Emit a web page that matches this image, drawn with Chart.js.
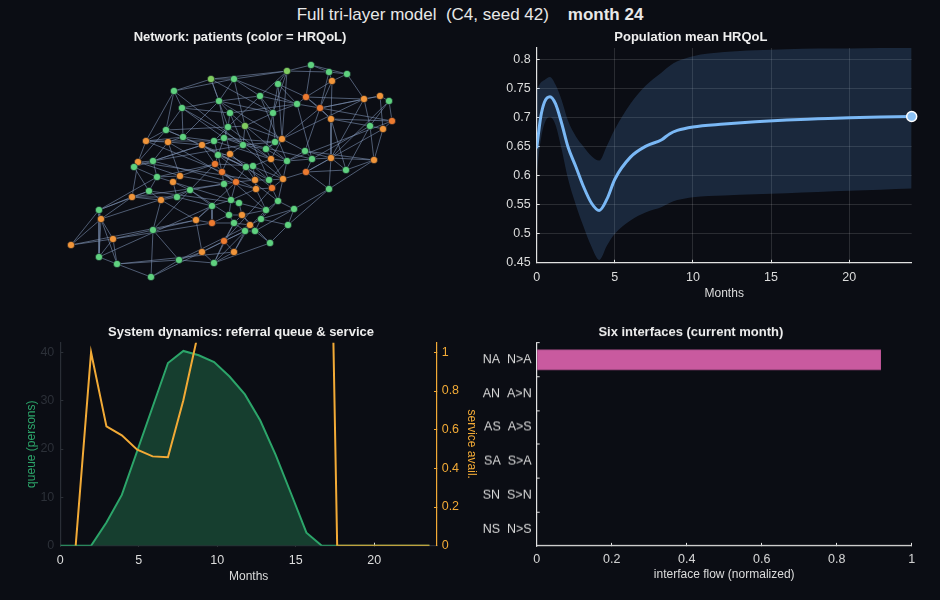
<!DOCTYPE html>
<html>
<head>
<meta charset="utf-8">
<script src="https://cdn.jsdelivr.net/npm/chart.js@4.4.1/dist/chart.umd.min.js"></script>
<style>
body { margin: 0; background: #0b0d14; width: 940px; height: 600px; overflow: hidden; position: relative; font-family: "Liberation Sans", Arial, sans-serif; }
.panel { position: absolute; }
#title { position: absolute; top: 4px; left: 0; width: 940px; text-align: center; color: #e8e8e8; font-size: 17px; line-height: 22px; white-space: pre; }
</style>
</head>
<body>
<div id="title">Full tri-layer model  (C4, seed 42)    <b>month 24</b></div>
<div class="panel" style="left:20px;top:26px;width:440px;height:264px"><canvas id="netChart"></canvas></div>
<div class="panel" style="left:470px;top:26px;width:460px;height:275px"><canvas id="hrqolChart"></canvas></div>
<div class="panel" style="left:0px;top:321px;width:482px;height:263px"><canvas id="queueChart"></canvas></div>
<div class="panel" style="left:470px;top:321px;width:460px;height:259.5px"><canvas id="ifaceChart"></canvas></div>
<script>
// --- network layout (layout units, y grows downward) and HRQoL per patient
const netX = [311,287,329,347,211,234,278,332,174,260,306,364,380,389,219,297,182,320,230,273,
    331,392,370,383,228,245,166,183,224,214,282,275,146,168,202,243,266,305,218,230,
    271,331,312,374,138,153,287,215,246,253,134,222,306,346,180,157,283,255,269,173,
    236,224,256,272,149,190,329,132,177,161,231,239,278,212,294,99,266,229,242,101,
    196,212,234,261,250,288,153,245,255,113,224,270,71,202,234,99,179,214,117,151]
const netY = [65,71,72,74,79,79,84,81,91,96,97,99,96,101,101,104,108,108,113,113,
    119,121,126,129,127,126,130,137,138,141,139,142,141,142,145,145,149,151,155,154,
    159,158,159,160,162,161,161,164,167,166,167,172,172,170,176,177,179,180,180,182,
    182,184,189,188,191,190,189,197,197,200,200,203,201,206,209,210,210,215,215,219,
    220,223,223,219,225,225,230,231,231,239,241,243,245,252,252,257,260,263,264,277]
const netHrqol = [0.82,0.7,0.82,0.82,0.7,0.82,0.82,0.5,0.82,0.82,0.4,0.5,0.5,0.82,0.82,0.82,0.82,0.4,0.82,0.82,
    0.5,0.4,0.82,0.5,0.82,0.7,0.82,0.82,0.82,0.82,0.5,0.82,0.5,0.5,0.5,0.82,0.82,0.82,0.82,0.5,
    0.5,0.5,0.82,0.5,0.5,0.82,0.82,0.4,0.82,0.82,0.82,0.4,0.4,0.82,0.5,0.82,0.5,0.5,0.82,0.5,
    0.4,0.82,0.5,0.4,0.82,0.82,0.82,0.5,0.82,0.5,0.82,0.82,0.82,0.82,0.82,0.82,0.82,0.82,0.5,0.5,
    0.5,0.4,0.82,0.82,0.5,0.82,0.82,0.82,0.82,0.5,0.4,0.82,0.5,0.5,0.5,0.82,0.82,0.82,0.82,0.82]
// edges, 1-based patient ids
const netEdges = [
    [1,2],[1,3],[1,4],[1,11],[2,6],[2,7],[2,3],[2,20],[2,10],[2,31],[3,4],[3,8],[3,18],[4,8],[4,12],
    [5,9],[5,6],[5,15],[5,2],[5,25],[5,20],[6,15],[6,10],[6,26],[6,16],[7,16],[7,20],[7,31],[7,11],
    [8,11],[8,18],[8,21],[9,17],[9,33],[9,27],[9,6],[9,36],[10,15],[10,20],[10,16],[10,25],[10,47],
    [11,18],[11,16],[11,12],[11,21],[12,13],[12,18],[12,23],[12,31],[12,42],[13,14],[13,24],[13,18],
    [14,22],[14,23],[14,42],[15,17],[15,19],[15,20],[15,40],[15,31],[16,18],[16,19],[16,20],[16,43],
    [17,27],[17,28],[17,19],[17,41],[17,29],[18,21],[18,22],[18,31],[18,38],[19,25],[19,36],[19,47],
    [20,26],[20,32],[20,37],[21,22],[21,42],[21,23],[21,54],[22,24],[22,47],[23,24],[23,44],[23,54],[23,43],
    [24,44],[24,53],[25,26],[25,29],[25,30],[25,27],[25,41],[26,36],[26,31],[26,59],
    [27,28],[27,33],[27,45],[27,57],[28,34],[28,30],[28,15],[28,49],[29,30],[29,39],[29,36],[29,32],[29,43],
    [30,35],[30,39],[30,41],[30,33],[31,32],[31,37],[31,41],[32,37],[32,36],
    [33,34],[33,45],[33,52],[33,28],[34,35],[34,55],[34,46],[34,61],[35,39],[35,48],[35,59],[35,51],
    [36,40],[36,37],[36,57],[36,46],[37,41],[37,47],[38,43],[38,31],[38,42],[38,47],[38,44],
    [39,40],[39,48],[39,52],[39,49],[39,73],[40,52],[40,49],[40,64],[41,47],[41,50],[41,57],
    [42,43],[42,44],[42,54],[42,53],[42,67],[43,47],[43,53],[44,54],[44,67],
    [45,46],[45,51],[45,68],[45,58],[45,55],[46,56],[46,29],[46,63],[47,57],[47,59],
    [48,52],[48,66],[48,55],[48,50],[49,50],[49,61],[49,58],[50,58],[50,59],[51,56],[51,65],
    [52,62],[52,61],[52,63],[52,77],[53,57],[53,67],[53,54],[55,56],[55,60],[55,62],[56,65],[56,60],[56,48],
    [57,59],[57,64],[57,73],[58,59],[58,61],[58,63],[59,64],[60,69],[60,66],[60,71],
    [61,62],[61,71],[61,81],[62,71],[62,66],[62,68],[63,64],[63,71],[63,77],[64,73],[64,91],
    [65,68],[65,70],[65,72],[66,69],[66,74],[66,78],[66,87],[66,80],[67,75],[67,86],
    [68,76],[68,80],[68,69],[68,70],[69,70],[69,74],[70,87],[70,81],[71,72],[71,74],[71,78],[72,77],[72,79],
    [73,75],[73,77],[73,84],[74,81],[74,82],[74,96],[75,86],[75,84],[75,89],
    [76,80],[76,93],[76,96],[76,65],[76,56],[77,84],[77,79],[77,98],[78,79],[78,83],[78,82],
    [79,85],[79,83],[79,92],[80,90],[80,96],[80,99],[80,93],[81,82],[81,87],[81,94],[81,93],
    [82,83],[82,90],[83,85],[83,88],[83,91],[83,98],[84,85],[84,89],[84,86],[85,88],[85,89],[85,97],[85,95],
    [86,92],[88,89],[88,95],[88,91],[88,94],[89,92],[90,99],[90,87],[90,96],[90,93],
    [91,94],[91,95],[91,98],[92,98],[94,98],[94,97],[94,100],[95,98],[95,99],[96,99],
    [97,99],[97,98],[97,100],[97,87],[99,100],[87,100]
]

// --- population mean HRQoL
const hrqolMonths = [0,0.25,0.5,0.85,1.2,1.6,2,2.5,3,3.5,4,4.5,5,6,7,8,8.5,9,10,12,14,16,18,20,22,24]
const hrqolMean = [0.647,0.700,0.727,0.736,0.724,0.690,0.650,0.616,0.581,0.553,0.540,0.560,0.594,0.632,0.651,0.662,0.672,0.678,0.684,0.689,0.693,0.696,0.698,0.700,0.701,0.702]
const hrqolUpper = [0.748,0.760,0.765,0.770,0.757,0.730,0.695,0.668,0.650,0.634,0.626,0.652,0.680,0.724,0.756,0.778,0.789,0.797,0.806,0.813,0.816,0.818,0.819,0.819,0.820,0.820]
const hrqolLower = [0.604,0.660,0.690,0.701,0.688,0.645,0.595,0.550,0.512,0.478,0.455,0.480,0.500,0.523,0.537,0.546,0.553,0.558,0.563,0.566,0.568,0.570,0.572,0.574,0.576,0.578]

// --- system dynamics
const sysMonths = [0,0.98,1.96,2.94,3.92,4.9,5.88,6.86,7.84,8.82,9.8,10.78,11.76,12.74,13.72,14.7,15.68,16.66,17.64,18.62,19.6,20.58,21.56,22.54,23.52]
const queueSize = [0,0,0,4.8,10.5,19.6,28.7,37.8,40.3,39.4,38.0,35.0,31.3,25.9,18.8,10.8,2.7,0,0,0,0,0,0,0,0]
const serviceAvail = [null,0,1.0,0.617,0.571,0.497,0.462,0.458,0.752,1.114,1.6,2.0,2.4,2.8,3.2,3.6,4.0,4.3,0,0,0,0,0,0,0]

// --- interfaces
const interfaceLabels = ["NA  N>A", "AN  A>N", "AS  A>S", "SA  S>A", "SN  S>N", "NS  N>S"]
const interfaceFlow = [0.918, 0, 0, 0, 0, 0]

Chart.defaults.font.family = "'Liberation Sans', Arial, sans-serif"
Chart.defaults.color = "#dcdcdc"
Chart.defaults.animation = false
Chart.defaults.layout.autoPadding = false
Chart.defaults.plugins.legend.display = false
Chart.defaults.plugins.tooltip.enabled = false

const textColor = "#dcdcdc"
const spineColor = "#e2e2e2"
const tickFont = { size: 12.5 }
const titleFont = { size: 13, weight: "bold" }
const axisTitleFont = { size: 12 }
const green = "#2ca56a"
const orange = "#f2aa36"

function fmt(v) {
    return String(+v.toFixed(2))
}

function hrqolColor(v) {
    const stops = [[0.4, [236, 122, 48]], [0.5, [241, 149, 58]], [0.7, [128, 204, 96]], [0.82, [95, 209, 127]]]
    if (v <= stops[0][0]) return `rgb(${stops[0][1].join(",")})`
    for (let i = 1; i < stops.length; i++) {
        if (v <= stops[i][0]) {
            const t = (v - stops[i - 1][0]) / (stops[i][0] - stops[i - 1][0])
            const c = stops[i][1].map((c1, j) => Math.round(stops[i - 1][1][j] + (c1 - stops[i - 1][1][j]) * t))
            return `rgb(${c.join(",")})`
        }
    }
    return `rgb(${stops[stops.length - 1][1].join(",")})`
}

function panelTitle(text) {
    return { display: true, text: text, color: "#eeeeee", font: titleFont, padding: { top: 4, bottom: 4 } }
}

// network
const nodes = netX.map((x, i) => ({ x: x, y: netY[i] }))
const seen = new Set()
const edgePoints = []
netEdges.forEach(([a, b]) => {
    const key = Math.min(a, b) + "-" + Math.max(a, b)
    if (seen.has(key)) return
    seen.add(key)
    edgePoints.push(nodes[a - 1], nodes[b - 1], { x: nodes[b - 1].x, y: null })
})

new Chart(document.getElementById("netChart"), {
    type: "scatter",
    data: {
        datasets: [
            {
                data: nodes,
                pointRadius: 3.6,
                pointBackgroundColor: netHrqol.map(hrqolColor),
                pointBorderColor: "rgba(15,20,30,0.7)",
                pointBorderWidth: 0.8,
                order: 0,
                clip: false,
            },
            {
                data: edgePoints,
                showLine: true,
                spanGaps: false,
                borderColor: "rgba(125,145,178,0.6)",
                borderWidth: 1,
                pointRadius: 0,
                order: 1,
            },
        ],
    },
    options: {
        responsive: true,
        maintainAspectRatio: false,
        plugins: { title: panelTitle("Network: patients (color = HRQoL)") },
        scales: {
            x: { type: "linear", display: false, min: 20, max: 460 },
            y: { type: "linear", display: false, min: 49.6, max: 290, reverse: true },
        },
    },
})

// population mean HRQoL
const xy = (xs, ys) => xs.map((x, i) => ({ x: x, y: ys[i] }))
const lastIdx = hrqolMonths.length - 1

new Chart(document.getElementById("hrqolChart"), {
    type: "line",
    data: {
        datasets: [
            {
                type: "scatter",
                data: [{ x: hrqolMonths[lastIdx], y: hrqolMean[lastIdx] }],
                pointRadius: 5,
                pointBackgroundColor: "#8cc2f5",
                pointBorderColor: "#ffffff",
                pointBorderWidth: 1.5,
                clip: false,
                order: 0,
            },
            {
                data: xy(hrqolMonths, hrqolMean),
                borderColor: "#7ab8f5",
                borderWidth: 3,
                pointRadius: 0,
                cubicInterpolationMode: "monotone",
                fill: false,
                order: 1,
            },
            {
                data: xy(hrqolMonths, hrqolUpper),
                borderWidth: 0,
                pointRadius: 0,
                cubicInterpolationMode: "monotone",
                backgroundColor: "rgba(90,150,220,0.2)",
                fill: "+1",
                order: 2,
            },
            {
                data: xy(hrqolMonths, hrqolLower),
                borderWidth: 0,
                pointRadius: 0,
                cubicInterpolationMode: "monotone",
                fill: false,
                order: 3,
            },
        ],
    },
    options: {
        responsive: true,
        maintainAspectRatio: false,
        layout: { padding: { right: 18.3 } },
        plugins: { title: { ...panelTitle("Population mean HRQoL"), padding: { top: 4, bottom: 2.4 } } },
        scales: {
            x: {
                type: "linear", min: 0, max: 24,
                ticks: { stepSize: 5, includeBounds: false, color: textColor, font: tickFont, padding: 10, maxRotation: 0 },
                grid: { color: "rgba(255,255,255,0.13)", tickColor: spineColor, tickLength: -3 },
                border: { color: spineColor, width: 1.2 },
                title: { display: true, text: "Months", color: textColor, font: axisTitleFont, padding: 0 },
                afterFit: (s) => { s.height = 38.2 },
            },
            y: {
                type: "linear", min: 0.45, max: 0.82,
                ticks: { stepSize: 0.05, includeBounds: false, color: textColor, font: tickFont, padding: 9, callback: fmt },
                grid: { color: "rgba(255,255,255,0.13)", tickColor: spineColor, tickLength: -3 },
                border: { color: spineColor, width: 1.2 },
                afterFit: (s) => { s.width = 66.7 },
            },
        },
    },
})

// system dynamics
new Chart(document.getElementById("queueChart"), {
    type: "line",
    data: {
        datasets: [
            {
                data: xy(sysMonths, serviceAvail),
                yAxisID: "yS",
                borderColor: orange,
                borderWidth: 2,
                pointRadius: 0,
                fill: false,
                spanGaps: false,
                order: 0,
            },
            {
                data: xy(sysMonths, queueSize),
                yAxisID: "yQ",
                borderColor: green,
                backgroundColor: "#163e2f",
                borderWidth: 2,
                pointRadius: 0,
                fill: "origin",
                order: 1,
            },
        ],
    },
    options: {
        responsive: true,
        maintainAspectRatio: false,
        plugins: { title: { ...panelTitle("System dynamics: referral queue & service"), padding: { top: 4, bottom: 2.1 } } },
        scales: {
            x: {
                type: "linear", min: 0, max: 24,
                ticks: { stepSize: 5, includeBounds: false, color: textColor, font: tickFont, padding: 10, maxRotation: 0 },
                grid: { drawOnChartArea: false, tickColor: spineColor, tickLength: -3 },
                border: { color: "#2a2e36", width: 1.2 },
                title: { display: true, text: "Months", color: textColor, font: axisTitleFont, padding: 0 },
                afterFit: (s) => { s.height = 38.3 },
            },
            yQ: {
                type: "linear", position: "left", min: 0, max: 42,
                ticks: { stepSize: 10, includeBounds: false, color: "#2c3038", font: tickFont, padding: 9 },
                grid: { drawOnChartArea: false, tickColor: "#2c3038", tickLength: -3 },
                border: { color: "#2a2e36", width: 1.2 },
                title: { display: true, text: "queue (persons)", color: green, font: axisTitleFont, padding: { top: 24.5, bottom: 0 } },
                afterFit: (s) => { s.width = 60.3 },
            },
            yS: {
                type: "linear", position: "right", min: 0, max: 1.05,
                ticks: { stepSize: 0.2, includeBounds: false, color: orange, font: tickFont, padding: 7.7, callback: fmt },
                grid: { drawOnChartArea: false, tickColor: orange, tickLength: -3 },
                border: { color: orange, width: 1.2 },
                title: { display: true, text: "service avail.", color: orange, font: axisTitleFont, padding: { top: 3.1, bottom: 0 } },
                afterFit: (s) => { s.width = 45 },
            },
        },
    },
})

// six interfaces
new Chart(document.getElementById("ifaceChart"), {
    type: "bar",
    data: {
        labels: interfaceLabels,
        datasets: [
            {
                data: interfaceFlow,
                backgroundColor: "#c95a9f",
                borderWidth: 0,
                barPercentage: 0.6,
                categoryPercentage: 1,
            },
        ],
    },
    options: {
        indexAxis: "y",
        responsive: true,
        maintainAspectRatio: false,
        layout: { padding: { right: 18.3 } },
        plugins: { title: { ...panelTitle("Six interfaces (current month)"), padding: { top: 4, bottom: 2.1 } } },
        scales: {
            x: {
                type: "linear", min: 0, max: 1,
                ticks: { stepSize: 0.2, includeBounds: false, color: textColor, font: tickFont, padding: 9, maxRotation: 0, callback: fmt },
                grid: { drawOnChartArea: false, tickColor: spineColor, tickLength: -3 },
                border: { color: spineColor, width: 1.2 },
                title: { display: true, text: "interface flow (normalized)", color: textColor, font: axisTitleFont, padding: 0 },
                afterFit: (s) => { s.height = 35.5 },
            },
            y: {
                ticks: { color: textColor, font: tickFont, padding: 8 },
                grid: { drawOnChartArea: false, tickColor: spineColor, tickLength: -3 },
                border: { color: spineColor, width: 1.2 },
                afterFit: (s) => { s.width = 66.7 },
            },
        },
    },
})
</script>
</body>
</html>
